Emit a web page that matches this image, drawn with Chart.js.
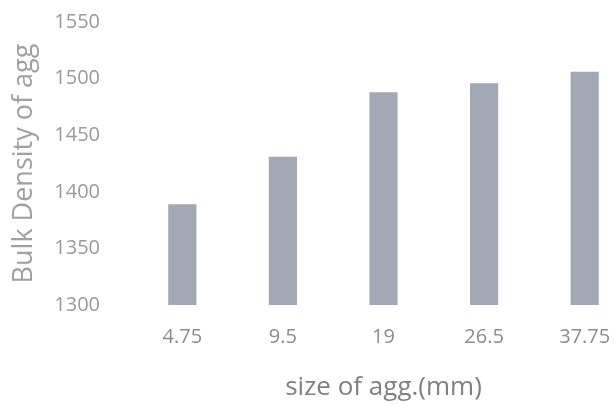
<!DOCTYPE html>
<html>
<head>
<meta charset="utf-8">
<script src="https://cdn.jsdelivr.net/npm/chart.js@4.4.0/dist/chart.umd.min.js"></script>
<style>
  html, body { margin: 0; padding: 0; background: #fff; overflow: hidden; }
  #wrap { width: 660px; height: 405px; }
</style>
</head>
<body>
<div id="wrap"><canvas id="grafico"></canvas></div>
<script>
// dados
const tamanhos = ['4.75', '9.5', '19', '26.5', '37.75'];
const densidade = [1389, 1431, 1488, 1496, 1506];
const eixoY = { min: 1300, max: 1550, passo: 50 };

const ctx = document.querySelector('#grafico');
new Chart(ctx, {
    type: 'bar',
    data: {
        labels: tamanhos,
        datasets: [{
            label: 'Bulk Density',
            data: densidade,
            backgroundColor: '#a3a8b5',
            borderWidth: 0,
            barPercentage: 0.56,
            categoryPercentage: 0.5,
        }],
    },
    options: {
        responsive: true,
        maintainAspectRatio: false,
        animation: false,
        layout: {
            autoPadding: false,
            padding: { top: 22, right: 25, bottom: 0, left: 0 }
        },
        plugins: {
            legend: { display: false },
            tooltip: { enabled: false },
        },
        scales: {
            x: {
                grid: { display: false, drawTicks: false },
                border: { display: false },
                ticks: {
                    color: '#8c8c8c',
                    font: { family: 'Open Sans', size: 20 },
                    padding: 20,
                    maxRotation: 0,
                },
                title: {
                    display: true,
                    text: 'size of agg.(mm)',
                    color: '#808080',
                    font: { family: 'Open Sans', size: 26 },
                    padding: { top: 0, bottom: 2 },
                },
                afterFit: (scale) => { scale.height = 100; },
            },
            y: {
                min: eixoY.min,
                max: eixoY.max,
                // marcas invisiveis so para afastar os rotulos do eixo
                grid: {
                    display: true,
                    drawOnChartArea: false,
                    drawTicks: true,
                    tickLength: 24,
                    color: 'rgba(0,0,0,0)',
                },
                border: { display: false },
                ticks: {
                    stepSize: eixoY.passo,
                    color: '#9a9a9a',
                    font: { family: 'Open Sans', size: 20 },
                    padding: 8,
                    callback: (v) => String(v),
                },
                title: {
                    display: true,
                    text: 'Bulk Density of agg',
                    color: '#a0a0a0',
                    font: { family: 'Open Sans', size: 27 },
                    padding: { top: 8, bottom: 0 },
                },
                afterFit: (scale) => { scale.width = 132; },
            },
        },
    },
});
</script>
</body>
</html>
